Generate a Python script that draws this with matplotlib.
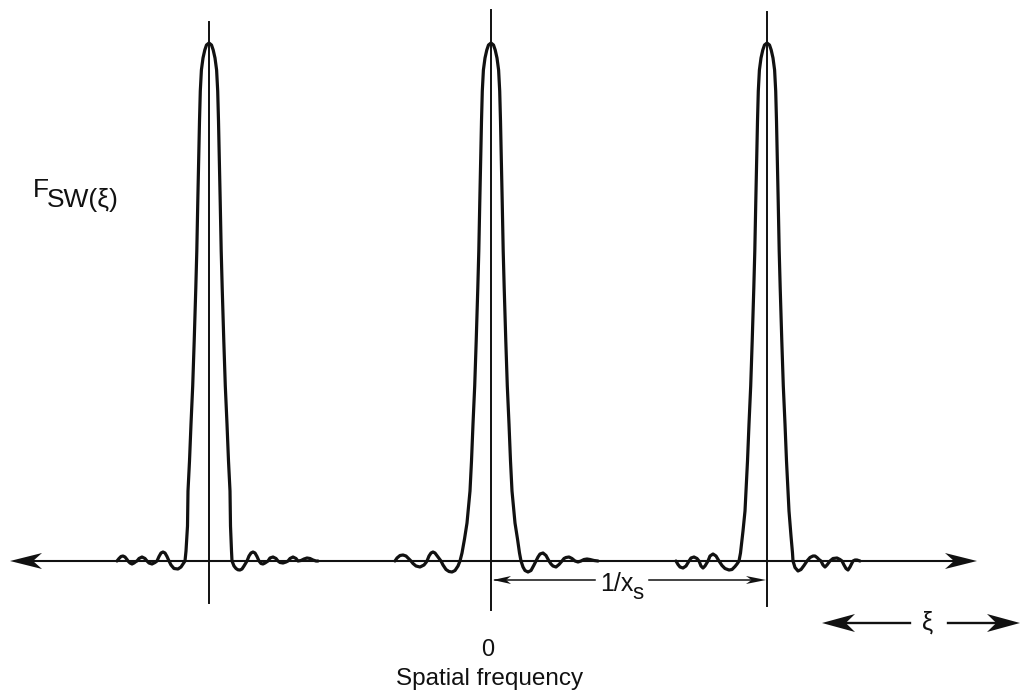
import numpy as np
import matplotlib
matplotlib.use("Agg")
import matplotlib.pyplot as plt
from matplotlib.patches import Polygon

plt.rcParams['font.family'] = ['Liberation Sans', 'DejaVu Sans']

# -------------------------------
# DATA (1/x_s spacing ~ 279, peak height ~ 518)
# -------------------------------
peak_centers = [-282, 0, 276]

# main lobe shared by all three peaks: half width vs height
lobe_hw = [0, 2.5, 4.2, 6, 7.6, 8.7, 9.5, 10.2, 11.2, 12.2, 13.2, 14.8, 16.3, 18, 19.5, 21]
lobe_h = [518, 516, 511, 503, 491, 470, 440, 407, 360, 310, 273, 220, 175, 137, 100, 70]

# side lobes of each peak (left side outer -> lobe, right side lobe -> outer)
left_peak_lx = [-92, -90, -88, -86, -84, -82, -81, -79, -77, -75, -73, -72, -70, -67, -64, -62,
                -60, -57, -54, -52, -50, -48, -46, -44, -42, -40, -38, -35, -31, -28, -26, -24,
                -23, -21.5]
left_peak_ly = [0, 2.5, 4.5, 5, 4, 1.5, 0, -2, -3, -2, -0.5, 0, 2.5, 4, 2.5, 0,
                -2, -3, -1.5, 0, 4.5, 8, 9, 8, 4.5, 0, -4, -7.5, -8, -6, -3, 0,
                10, 35]
left_peak_rx = [21.5, 22.5, 23, 25, 27, 29, 31, 33, 35, 38, 40, 42, 44, 46, 48, 50, 52, 54, 56,
                59, 61, 64, 67, 69, 71, 74, 77, 79, 81, 84, 87, 89, 92, 95, 98, 101, 104, 107, 109]
left_peak_ry = [35, 10, 0, -5, -7.5, -8.8, -9, -8, -5, 0, 5, 8, 9, 8, 4.5, 0, -2.5, -3, -2,
                0, 3, 4, 2.5, 0, -1.5, -2, -1, 0, 2.5, 4, 2.5, 0, 0.5, 2, 3, 2.5, 1, 0, 0]

mid_peak_lx = [-96, -94, -91, -88, -85, -82, -80, -78, -75, -71, -67, -65, -64, -62, -60, -58,
               -56, -53, -50, -48, -45, -42, -39, -36, -33, -31, -29, -26.5, -24]
mid_peak_ly = [0, 3, 5.5, 6, 5, 2, 0, -2.5, -5, -6, -4, -1.5, 0, 5, 8, 9,
               8, 4, 0, -4, -8.5, -10.5, -11, -9.5, -5, 0, 8, 22, 38]
mid_peak_rx = [24, 26.5, 28.5, 30, 32, 34, 37, 40, 43, 45, 47, 49, 52, 55, 58, 60, 62, 65,
               68, 71, 73, 75, 78, 81, 84, 87, 90, 93, 96, 99, 103, 107]
mid_peak_ry = [38, 22, 8, 0, -6, -9.5, -11, -9.5, -4, 0, 4, 7, 8, 5.5, 0, -3, -5, -6,
               -3.5, 0, 2.5, 3.5, 4, 2.5, 0, -1, 0, 1.5, 2, 1.5, 0.5, 0]

right_peak_lx = [-91, -89, -87, -84, -81, -78, -76, -73, -70, -68, -66, -64, -62, -59, -57, -54,
                 -51, -48, -45, -42, -38, -35, -32, -30, -28, -26.5, -24, -22]
right_peak_ly = [0, -3.5, -6, -7, -5, 0, 3, 4, 2.5, 0, -5, -7, -5, 0, 5, 7,
                 5, 0, -4.5, -7.5, -9, -8.5, -5.5, -3, 0, 8, 30, 50]
right_peak_rx = [22, 24, 25.5, 26, 28, 31, 34, 37, 40, 43, 46, 48, 50, 52, 54, 56, 58, 60,
                 63, 66, 70, 73, 75, 77, 79, 81, 83, 86, 88, 90, 93]
right_peak_ry = [50, 25, 8, 0, -6.5, -10, -8.5, -4.5, 0, 3.5, 5, 5, 3.5, 1.5, 0, -4, -6, -4,
                 0, 2.5, 3, 1.5, 0, -4, -7.5, -9, -6, 0, 1, 1, 0]

sides = [
    (left_peak_lx, left_peak_ly, left_peak_rx, left_peak_ry),
    (mid_peak_lx, mid_peak_ly, mid_peak_rx, mid_peak_ry),
    (right_peak_lx, right_peak_ly, right_peak_rx, right_peak_ry),
]

# -------------------------------
# FIGURE
# -------------------------------
fig = plt.figure(figsize=(10.25, 6.96), dpi=100)
ax = fig.add_axes([0, 0, 1, 1])
ax.set_xlim(-491, 534)
ax.set_ylim(-135, 561)
ax.axis('off')

ink = '#111111'


def arrowhead(x_tip, y, d, length, hw):
    pts = [(x_tip, y), (x_tip - d * length, y + hw),
           (x_tip - d * 0.72 * length, y), (x_tip - d * length, y - hw)]
    ax.add_patch(Polygon(pts, closed=True, color=ink, lw=0))


# peaks
lhw = np.array(lobe_hw)
lh = np.array(lobe_h)
for c, (lx, ly, rx, ry) in zip(peak_centers, sides):
    xs = np.concatenate([lx, -lhw[::-1], lhw[1:], rx]) + c
    ys = np.concatenate([ly, lh[::-1], lh[1:], ry])
    ax.plot(xs, ys, color=ink, lw=2.3, solid_joinstyle='round', solid_capstyle='round')

# vertical lines through the peaks
vtops = [539, 551, 549]
vbots = [-42, -49, -45]
for c, t, b in zip(peak_centers, vtops, vbots):
    ax.plot([c, c], [b, t], color=ink, lw=1.4)

# horizontal axis with arrows
ax.plot([-460, 465], [0, 0], color=ink, lw=1.5)
arrowhead(-481, 0, -1, 32, 8)
arrowhead(486, 0, 1, 32, 8)

# 1/x_s dimension
ax.plot([4, 104], [-19, -19], color=ink, lw=1.1)
ax.plot([158, 262], [-19, -19], color=ink, lw=1.1)
arrowhead(2, -19, -1, 18, 4)
arrowhead(275, -19, 1, 20, 4)
ax.text(109, -30, '1/x', fontsize=18, ha='left', va='baseline', color=ink)
ax.text(141, -38, 's', fontsize=16, ha='left', va='baseline', color=ink)

# xi direction arrow
ax.plot([345, 419], [-62, -62], color=ink, lw=1.7)
ax.plot([457, 515], [-62, -62], color=ink, lw=1.7)
arrowhead(331, -62, -1, 33, 9)
arrowhead(529, -62, 1, 33, 9)
ax.text(437, -62, 'ξ', fontsize=18, ha='center', va='center', color=ink)

# labels
ax.text(-458, 364, 'F', fontsize=19, ha='left', va='baseline', color=ink)
ax.text(-444, 354, 'SW(ξ)', fontsize=19, ha='left', va='baseline', color=ink)
ax.text(-3, -95, '0', fontsize=17, ha='center', va='baseline', color=ink)
ax.text(-1, -124, 'Spatial frequency', fontsize=17.5, ha='center', va='baseline', color=ink)

fig.savefig('out.png', dpi=100, facecolor='white')
